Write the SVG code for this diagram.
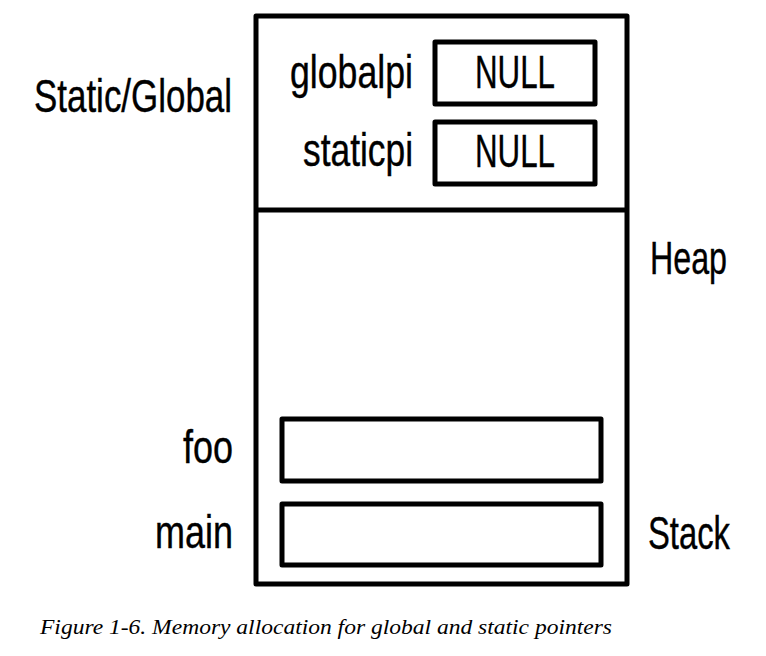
<svg xmlns="http://www.w3.org/2000/svg" width="766" height="656" viewBox="0 0 766 656">
  <style>
    .box { fill: #fff; stroke: #000; stroke-width: 5; stroke-linejoin: round; }
    .lbl { font-family: "Liberation Sans", Arial, sans-serif; font-size: 47px; fill: #000; stroke: #000; stroke-width: 0.4; }
    .cap { font-family: "Liberation Serif", "Times New Roman", serif; font-style: italic; font-size: 22px; fill: #000; }
  </style>
  <rect width="766" height="656" fill="#fff"/>
  <g id="memory">
    <rect class="box" x="256" y="16" width="371" height="568"/>
  </g>
  <g id="connectors">
    <line x1="256" y1="210" x2="627" y2="210" stroke="#000" stroke-width="5"/>
  </g>
  <g id="static-global">
    <text class="lbl" x="34" y="112" textLength="198" lengthAdjust="spacingAndGlyphs">Static/Global</text>
  </g>
  <g id="globalpi">
    <text class="lbl" x="290" y="88" textLength="123" lengthAdjust="spacingAndGlyphs">globalpi</text>
    <rect class="box" x="435" y="42" width="160" height="62"/>
    <text class="lbl" x="475" y="88" textLength="80" lengthAdjust="spacingAndGlyphs">NULL</text>
  </g>
  <g id="staticpi">
    <text class="lbl" x="303" y="166" textLength="110" lengthAdjust="spacingAndGlyphs">staticpi</text>
    <rect class="box" x="435" y="122" width="160" height="62"/>
    <text class="lbl" x="475" y="167" textLength="80" lengthAdjust="spacingAndGlyphs">NULL</text>
  </g>
  <g id="heap">
    <text class="lbl" x="650" y="274" textLength="77" lengthAdjust="spacingAndGlyphs">Heap</text>
  </g>
  <g id="foo">
    <text class="lbl" x="183" y="463" textLength="50" lengthAdjust="spacingAndGlyphs">foo</text>
    <rect class="box" x="282" y="419" width="319" height="62"/>
  </g>
  <g id="main">
    <text class="lbl" x="155" y="548" textLength="78" lengthAdjust="spacingAndGlyphs">main</text>
    <rect class="box" x="282" y="504" width="319" height="61"/>
  </g>
  <g id="stack">
    <text class="lbl" x="648" y="549" textLength="82" lengthAdjust="spacingAndGlyphs">Stack</text>
  </g>
  <g id="caption">
    <text class="cap" x="40" y="634" textLength="572" lengthAdjust="spacingAndGlyphs">Figure 1-6. Memory allocation for global and static pointers</text>
  </g>
</svg>
